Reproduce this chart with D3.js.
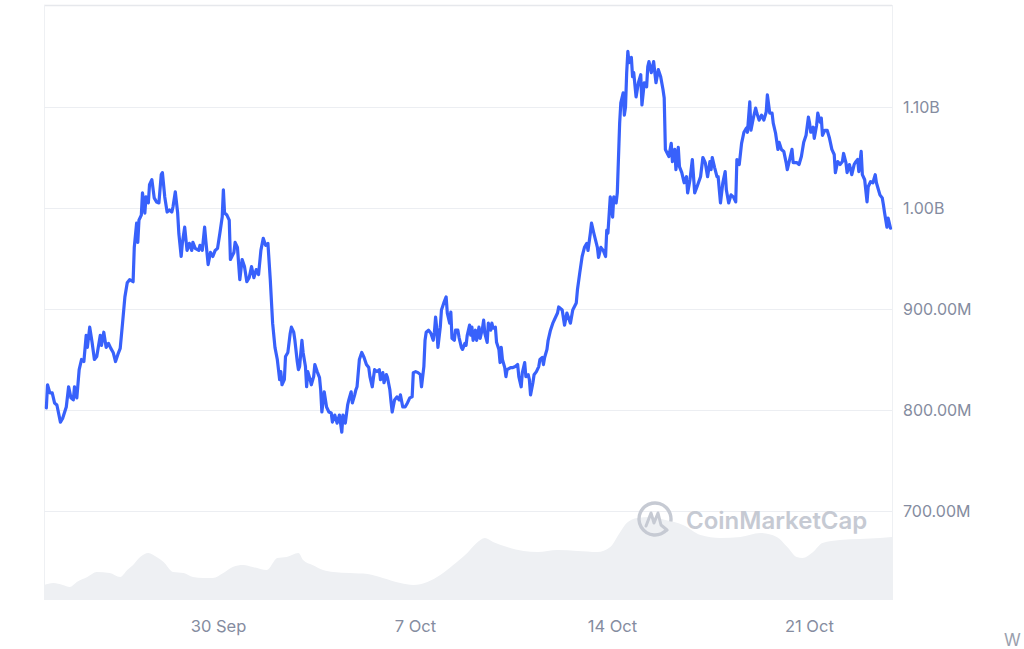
<!DOCTYPE html>
<html>
<head>
<meta charset="utf-8">
<script src="https://cdn.jsdelivr.net/npm/d3@7"></script>
<style>
  html, body { margin: 0; padding: 0; background: #fff; }
  svg { display: block; }
</style>
</head>
<body>
<svg id="chart" width="1024" height="649"></svg>
<script>
// ---- data ----
const startISO = "2023-09-23T19:36:00Z";          // first sample time
const endHours = 723.3;                            // span of the x domain, hours
const xTickDates = ["2023-09-30", "2023-10-07", "2023-10-14", "2023-10-21"];
const yTicks = [700, 800, 900, 1000, 1100];        // millions USD

// price (market cap, millions USD) sampled at hours since start
const priceHours = [2,3,5,7,9,11,14,16,19,21,23,25,26,28,30,32,34,36,37,39,41,43,45,48,49,51,53,55,57,59,61,63,65,67,69,71,73,76,77,79,80,81,83,84,86,87,89,90,92,94,96,98,100,101,103,105,107,109,110,112,114,115,117,118,120,122,124,126,127,129,132,133,135,137,138,140,142,144,146,148,150,152,153,154,156,158,159,162,163,165,167,169,171,173,175,177,179,181,183,185,187,189,191,193,195,197,199,200,201,202,203,205,206,208,210,211,213,214,216,217,218,220,221,223,224,225,227,228,230,231,233,235,236,237,239,241,243,245,246,248,250,252,254,255,257,259,260,262,263,265,266,267,269,271,273,275,277,278,280,281,282,284,286,287,289,290,292,293,295,296,297,299,301,303,304,306,308,310,312,314,315,317,319,321,322,324,325,326,328,330,332,333,334,335,336,338,339,341,343,344,346,347,348,350,351,353,354,356,357,359,360,361,363,364,365,366,368,369,371,372,374,375,376,378,379,381,382,383,385,386,388,389,390,391,393,394,395,398,400,402,404,405,407,408,410,411,413,414,415,417,418,420,422,423,425,426,427,429,430,432,434,438,439,442,444,446,449,451,454,455,457,459,461,463,464,466,467,469,472,473,475,477,479,480,481,483,485,486,488,489,491,492,494,495,496,497,498,499,501,502,503,505,507,509,510,512,514,515,516,518,520,521,522,524,526,528,529,530,533,535,536,538,539,541,542,544,546,548,549,551,553,555,557,560,562,564,566,568,569,570,572,574,575,577,579,581,582,584,586,588,590,591,593,595,597,599,600,602,603,605,607,608,610,612,614,616,617,619,621,622,624,626,627,629,631,633,634,636,638,639,642,644,646,648,650,652,653,654,656,657,659,660,662,663,664,666,668,670,672,674,675,677,679,681,682,684,685,687,689,691,692,694,695,697,698,700,702,703,705,707,709,710,711,713,715,716,717,719,720,722];
const priceValues = [802,825,817,817,807,805,788,792,803,823,812,810,823,812,840,850,848,874,862,882,867,850,853,874,864,877,862,866,861,857,848,855,861,886,912,926,929,927,961,985,966,988,993,1015,995,1011,1005,1023,1028,1010,1006,1005,1033,1035,1011,996,998,996,1001,1016,995,975,952,965,981,958,965,958,966,960,958,963,958,981,968,944,956,952,958,960,975,991,1018,995,993,988,949,956,966,961,929,949,942,927,931,942,931,939,934,958,970,963,965,929,886,862,850,840,830,838,825,830,853,857,876,882,877,869,848,840,843,869,857,843,823,838,830,825,833,845,838,832,820,798,818,803,798,797,788,795,787,795,778,795,787,805,810,818,807,815,820,823,850,857,852,845,842,833,823,832,840,838,840,830,837,827,835,832,820,808,798,810,813,810,815,803,803,807,812,813,837,838,837,835,823,843,869,877,879,876,869,877,892,881,862,882,899,906,912,896,886,897,871,869,879,879,872,862,860,866,864,874,884,874,882,869,879,869,882,871,881,889,876,867,886,879,886,881,882,867,860,847,862,850,842,833,840,842,842,843,845,833,823,837,847,833,835,830,815,827,835,838,843,850,852,845,852,860,869,879,886,896,902,899,884,896,886,899,906,919,936,952,961,965,958,975,985,975,961,951,961,958,952,978,975,1011,991,1011,1005,1015,1084,1104,1114,1092,1100,1134,1155,1144,1149,1130,1134,1110,1124,1132,1102,1124,1120,1140,1145,1134,1145,1134,1124,1137,1130,1117,1109,1058,1051,1064,1046,1058,1038,1060,1041,1035,1025,1031,1015,1028,1048,1015,1021,1031,1050,1045,1031,1046,1038,1050,1040,1031,1031,1005,1025,1036,1018,1005,1013,1011,1006,1048,1043,1064,1075,1079,1075,1105,1077,1089,1099,1094,1087,1092,1087,1095,1112,1094,1094,1084,1074,1058,1065,1058,1056,1045,1038,1048,1058,1045,1045,1043,1051,1065,1072,1090,1084,1075,1080,1069,1082,1094,1085,1089,1072,1077,1077,1069,1058,1053,1035,1046,1043,1046,1054,1045,1035,1043,1033,1043,1045,1048,1036,1056,1033,1028,1006,1021,1026,1025,1033,1025,1021,1013,1010,1003,995,981,990,980];

// 24h volume (millions USD) sampled at hours since start
const volumeHours = [0,8,16,22,28,37,45,56,65,71,76,82,89,96,102,110,119,127,136,144,153,161,170,178,190,199,207,217,221,229,238,247,261,276,289,304,315,327,338,349,361,369,376,383,395,409,421,438,455,472,483,491,497,506,517,530,545,560,577,594,611,625,634,642,647,656,664,679,696,713,723.3];
const volumeValues = [300,340,300,260,360,460,560,540,460,600,700,860,940,860,760,560,540,460,440,440,540,660,700,660,600,840,860,940,800,700,600,560,540,520,440,340,300,360,500,700,940,1140,1240,1160,1060,980,960,1000,980,960,1060,1340,1540,1640,1660,1600,1500,1300,1240,1260,1340,1260,1060,860,840,960,1140,1200,1220,1240,1260];

// ---- drawing ----
const W = 1024, H = 649;
const pLeft = 44, pRight = 892, pTop = 5, pBottom = 600;
const startDate = new Date(startISO);
const toDate = h => new Date(startDate.getTime() + h * 3600e3);

const svg = d3.select("#chart");
svg.append("rect").attr("width", W).attr("height", H).attr("fill", "#fff");

const x = d3.scaleTime().domain([startDate, toDate(endHours)]).range([pLeft, pRight]);
const y = d3.scaleLinear().domain([700, 1100]).range([511, 107]);
const yVol = d3.scaleLinear().domain([0, 2000]).range([pBottom, pBottom - 100]);

const price = priceHours.map((h, i) => ({ t: toDate(h), v: priceValues[i] }));
const volume = volumeHours.map((h, i) => ({ t: toDate(h), v: volumeValues[i] }));

// frame
const frame = svg.append("g");
frame.append("line").attr("x1", pLeft).attr("x2", pRight).attr("y1", pTop + 0.5).attr("y2", pTop + 0.5)
  .attr("stroke", "#e6e8ec").attr("stroke-width", 1.5);
frame.append("line").attr("x1", pLeft + 0.5).attr("x2", pLeft + 0.5).attr("y1", pTop).attr("y2", pBottom)
  .attr("stroke", "#eef0f3").attr("stroke-width", 1);
frame.append("line").attr("x1", pRight + 0.5).attr("x2", pRight + 0.5).attr("y1", pTop).attr("y2", pBottom)
  .attr("stroke", "#eef0f3").attr("stroke-width", 1);

// grid lines
svg.append("g").selectAll("line").data(yTicks).join("line")
  .attr("x1", pLeft).attr("x2", pRight)
  .attr("y1", d => Math.round(y(d)) + 0.5).attr("y2", d => Math.round(y(d)) + 0.5)
  .attr("stroke", "#eceef2").attr("stroke-width", 1);

// volume area
const area = d3.area().x(d => x(d.t)).y0(pBottom).y1(d => yVol(d.v)).curve(d3.curveMonotoneX);
svg.append("path").datum(volume).attr("d", area).attr("fill", "#eef0f3");

// watermark
const wm = svg.append("g");
const cx = 655, cy = 519, r = 16;
const arc = d3.arc().innerRadius(r - 1.7).outerRadius(r + 1.7)
  .startAngle(Math.PI * 0.72).endAngle(Math.PI * 2.55);
wm.append("path").attr("transform", `translate(${cx},${cy})`).attr("d", arc()).attr("fill", "#c6cad3");
wm.append("path")
  .attr("d", `M${cx - 9},${cy + 7} L${cx - 4},${cy - 6} L${cx - 1},${cy + 4} L${cx + 3},${cy - 6} L${cx + 6},${cy + 6} L${cx + 12},${cy + 11}`)
  .attr("fill", "none").attr("stroke", "#c6cad3").attr("stroke-width", 3)
  .attr("stroke-linejoin", "round").attr("stroke-linecap", "round");
wm.append("text").attr("x", 686).attr("y", 529)
  .attr("font-family", "Inter, 'Noto Sans', sans-serif").attr("font-size", 24).attr("font-weight", 600)
  .attr("fill", "#c6cad3").text("CoinMarketCap");

// price line
const line = d3.line().x(d => x(d.t)).y(d => y(d.v));
svg.append("path").datum(price).attr("d", line)
  .attr("fill", "none").attr("stroke", "#3861fb").attr("stroke-width", 3.2)
  .attr("stroke-linejoin", "round").attr("stroke-linecap", "round");

// y axis (right)
const fmtY = v => v >= 1000 ? (v / 1000).toFixed(2) + "B" : v.toFixed(2) + "M";
const yAxis = d3.axisRight(y).tickValues(yTicks).tickFormat(fmtY).tickSize(0).tickPadding(11);
const gy = svg.append("g").attr("transform", `translate(${pRight},0)`).call(yAxis);
gy.select(".domain").remove();
gy.selectAll("text").attr("font-family", "Inter, 'Noto Sans', sans-serif").attr("font-size", 16)
  .attr("fill", "#858ca0");

// x axis
const fmtX = d3.utcFormat("%-d %b");
const xAxis = d3.axisBottom(x).tickValues(xTickDates.map(s => new Date(s + "T00:00:00Z")))
  .tickFormat(fmtX).tickSize(0).tickPadding(20);
const gx = svg.append("g").attr("transform", `translate(0,${pBottom})`).call(xAxis);
gx.select(".domain").remove();
gx.selectAll("text").attr("font-family", "Inter, 'Noto Sans', sans-serif").attr("font-size", 16.5)
  .attr("fill", "#858ca0");

// partial text at the bottom-right edge
svg.append("text").attr("x", 1004).attr("y", 646)
  .attr("font-family", "Inter, 'Noto Sans', sans-serif").attr("font-size", 17)
  .attr("fill", "#9aa0ad").text("W");
</script>
</body>
</html>
